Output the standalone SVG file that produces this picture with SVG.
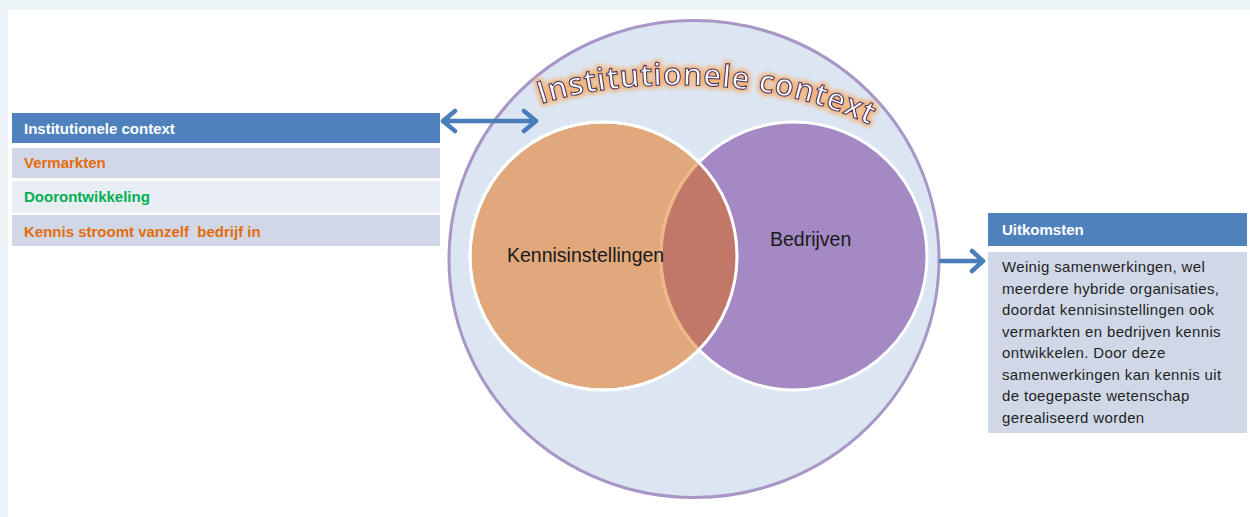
<svg xmlns="http://www.w3.org/2000/svg" xmlns:xlink="http://www.w3.org/1999/xlink" width="1250" height="517" viewBox="0 0 1250 517">
  <style>
    .hdr { fill: #4f81bd; }
    .rowA { fill: #d0d8e8; }
    .rowB { fill: #e9edf4; }
    .hdrText { font-family: "Liberation Sans", Arial, sans-serif; font-weight: bold; font-size: 15px; fill: #ffffff; }
    .item { font-family: "Liberation Sans", Arial, sans-serif; font-weight: bold; font-size: 15px; }
    .orange { fill: #e46c0a; }
    .green { fill: #00b050; }
    .body { font-family: "Liberation Sans", Arial, sans-serif; font-size: 15px; letter-spacing: 0.35px; fill: #1f1f1f; }
    .label { font-family: "Liberation Sans", Arial, sans-serif; font-size: 19.5px; fill: #1a1a1a; }
    .arc { font-family: "Open Sans", "Liberation Sans", sans-serif; font-size: 31px; font-weight: 600; fill: #ffffff; stroke: #4b3a6b; stroke-width: 1.2px; }
    .conn { fill: none; stroke: #4a7ebb; stroke-width: 4.5; stroke-linecap: round; stroke-linejoin: round; }
  </style>
  <defs>
    <filter id="glow" x="-10%" y="-40%" width="120%" height="180%">
      <feMorphology in="SourceAlpha" operator="dilate" radius="2" result="d"/>
      <feGaussianBlur in="d" stdDeviation="2.2" result="b"/>
      <feFlood flood-color="#f2b479"/>
      <feComposite in2="b" operator="in" result="g"/>
      <feMerge>
        <feMergeNode in="g"/>
        <feMergeNode in="SourceGraphic"/>
      </feMerge>
    </filter>
    <clipPath id="clipPurple">
      <ellipse cx="794" cy="256" rx="133" ry="134"/>
    </clipPath>
    <clipPath id="clipOrange">
      <ellipse cx="603.5" cy="256" rx="133.5" ry="134"/>
    </clipPath>
    <path id="arcPath" d="M 541 104 C 620 78, 770 72, 880 130"/>
  </defs>

  <!-- page -->
  <rect x="0" y="0" width="1250" height="517" fill="#eaf4f7"/>
  <rect x="8" y="10" width="1242" height="507" fill="#ffffff"/>

  <!-- left list -->
  <g id="context-list">
    <rect class="hdr" x="12" y="113" width="428" height="30"/>
    <text class="hdrText" x="24" y="133.5">Institutionele context</text>
    <rect class="rowA" x="12" y="148" width="428" height="30"/>
    <text class="item orange" x="24" y="168">Vermarkten</text>
    <rect class="rowB" x="12" y="181" width="428" height="32"/>
    <text class="item green" x="24" y="202">Doorontwikkeling</text>
    <rect class="rowA" x="12" y="215" width="428" height="31"/>
    <text class="item orange" x="24" y="236.5" xml:space="preserve">Kennis stroomt vanzelf  bedrijf in</text>
  </g>

  <!-- outer context circle -->
  <g id="context-circle">
    <ellipse cx="694" cy="259" rx="245" ry="238.5" fill="#dce6f2" stroke="#a897c6" stroke-width="3"/>
    <text class="arc" filter="url(#glow)"><textPath xlink:href="#arcPath" href="#arcPath" textLength="336" lengthAdjust="spacing">Institutionele context</textPath></text>
  </g>

  <!-- Venn -->
  <g id="kennisinstellingen">
    <ellipse cx="603.5" cy="256" rx="133.5" ry="134" fill="#e1a87c" stroke="#ffffff" stroke-width="3"/>
  </g>
  <g id="bedrijven">
    <ellipse cx="794" cy="256" rx="133" ry="134" fill="#a589c4" stroke="#ffffff" stroke-width="3"/>
  </g>
  <g id="overlap">
    <ellipse cx="603.5" cy="256" rx="133.5" ry="134" fill="#c27868" clip-path="url(#clipPurple)"/>
    <ellipse cx="794" cy="256" rx="133" ry="134" fill="none" stroke="#eeb484" stroke-width="3" clip-path="url(#clipOrange)"/>
    <ellipse cx="603.5" cy="256" rx="133.5" ry="134" fill="none" stroke="#ffffff" stroke-width="3"/>
  </g>
  <text class="label" x="507" y="262">Kennisinstellingen</text>
  <text class="label" x="770" y="246">Bedrijven</text>

  <!-- outcomes -->
  <g id="uitkomsten">
    <rect class="hdr" x="988" y="213" width="259" height="33"/>
    <text class="hdrText" x="1002" y="234.5">Uitkomsten</text>
    <rect class="rowA" x="988" y="252" width="259" height="181"/>
    <text class="body" x="1002">
      <tspan x="1002" y="272">Weinig samenwerkingen, wel</tspan>
      <tspan x="1002" y="293.5">meerdere hybride organisaties,</tspan>
      <tspan x="1002" y="315">doordat kennisinstellingen ook</tspan>
      <tspan x="1002" y="336.5">vermarkten en bedrijven kennis</tspan>
      <tspan x="1002" y="358">ontwikkelen. Door deze</tspan>
      <tspan x="1002" y="379.5">samenwerkingen kan kennis uit</tspan>
      <tspan x="1002" y="401">de toegepaste wetenschap</tspan>
      <tspan x="1002" y="422.5">gerealiseerd worden</tspan>
    </text>
  </g>

  <!-- connectors -->
  <g id="connectors">
    <path class="conn" d="M 443 121 L 536 121 M 455 111 L 443 121 L 455 131 M 524 111 L 536 121 L 524 131"/>
    <path class="conn" d="M 941 261 L 983 261 M 972 251 L 983 261 L 972 271"/>
  </g>
</svg>
